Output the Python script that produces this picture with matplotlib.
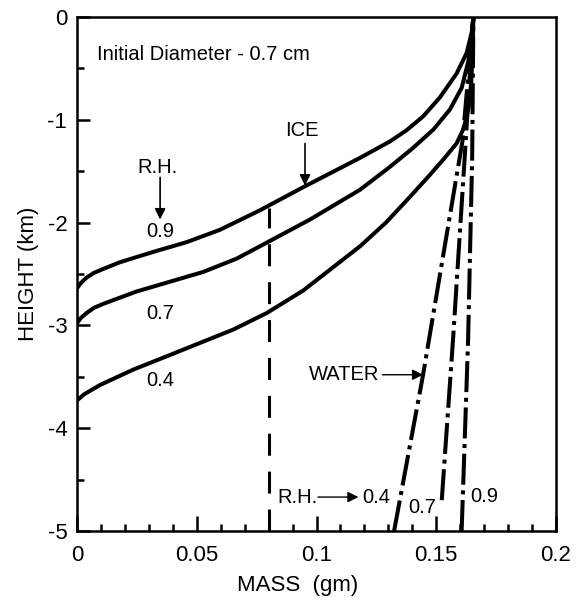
import matplotlib
matplotlib.use("Agg")
import matplotlib.pyplot as plt
from matplotlib.ticker import MultipleLocator

plt.rcParams['font.family'] = ['Liberation Sans', 'DejaVu Sans']

# ---- data ----
ice09_x = [0.0, 0.0015, 0.0040, 0.0070, 0.0110, 0.0180, 0.0249, 0.0333, 0.0458, 0.0597, 0.0764, 0.0945,
           0.1182, 0.1307, 0.1377, 0.1446, 0.1516, 0.1585, 0.1627, 0.1648, 0.1655]
ice09_y = [-2.64, -2.59, -2.535, -2.49, -2.45, -2.385, -2.335, -2.275, -2.19, -2.07, -1.88, -1.655,
           -1.37, -1.21, -1.10, -0.965, -0.78, -0.55, -0.35, -0.15, 0.0]

ice07_x = [0.0, 0.0015, 0.0040, 0.0070, 0.0110, 0.0249, 0.0388, 0.0527, 0.0667, 0.0764, 0.0973, 0.1182,
           0.1300, 0.1400, 0.1488, 0.1557, 0.1606, 0.1634, 0.1648, 0.1655]
ice07_y = [-2.98, -2.93, -2.88, -2.83, -2.79, -2.67, -2.575, -2.48, -2.35, -2.23, -1.97, -1.68,
           -1.47, -1.28, -1.095, -0.90, -0.69, -0.43, -0.19, 0.0]

ice04_x = [0.0, 0.0030, 0.0096, 0.0235, 0.0375, 0.0514, 0.0653, 0.0792, 0.0945, 0.1182, 0.1290, 0.1390,
           0.1470, 0.1530, 0.1585, 0.1615, 0.1635, 0.1646, 0.1652, 0.1655]
ice04_y = [-3.73, -3.67, -3.58, -3.43, -3.30, -3.17, -3.04, -2.88, -2.66, -2.23, -2.00, -1.75,
           -1.545, -1.385, -1.23, -1.08, -0.88, -0.64, -0.34, 0.0]

w04_x = [0.1324, 0.1445, 0.1610, 0.1655]
w04_y = [-5.0, -3.48, -1.20, 0.0]
w07_x = [0.1523, 0.1570, 0.1620, 0.1655]
w07_y = [-4.70, -3.14, -1.32, 0.0]
w09_x = [0.1606, 0.1633, 0.1650, 0.1655]
w09_y = [-5.0, -3.14, -1.36, 0.0]

ref_x = [0.08, 0.08]
ref_y = [-5.0, -1.86]

xticks = [0, 0.05, 0.1, 0.15, 0.2]
xticklabels = ['0', '0.05', '0.1', '0.15', '0.2']
yticks = [0, -1, -2, -3, -4, -5]
yticklabels = ['0', '-1', '-2', '-3', '-4', '-5']

# ---- figure ----
fig = plt.figure(figsize=(5.77, 6.09), dpi=100)
ax = fig.add_axes([77/577, 1-531/609, (556-77)/577, (531-17)/609])

lw = 2.9
for xs, ys in [(ice09_x, ice09_y), (ice07_x, ice07_y), (ice04_x, ice04_y)]:
    ax.plot(xs, ys, color='black', lw=lw, solid_capstyle='butt', solid_joinstyle='round')

dashdot = (0, (7.7, 1.4, 1.0, 1.4))
for xs, ys in [(w04_x, w04_y), (w07_x, w07_y), (w09_x, w09_y)]:
    ax.plot(xs, ys, color='black', lw=lw, linestyle=dashdot, dash_capstyle='butt')

ax.plot(ref_x, ref_y, color='black', lw=2.2, linestyle=(0, (7.2, 5.2)), dash_capstyle='butt')

ax.set_xlim(0, 0.2)
ax.set_ylim(-5, 0)
ax.set_xticks(xticks)
ax.set_xticklabels(xticklabels)
ax.set_yticks(yticks)
ax.set_yticklabels(yticklabels)
ax.xaxis.set_minor_locator(MultipleLocator(0.01))
ax.yaxis.set_minor_locator(MultipleLocator(0.5))
ax.tick_params(axis='both', which='both', direction='in', top=False, right=False, width=1.8, labelsize=16)
ax.tick_params(axis='x', which='major', length=11, pad=10)
ax.tick_params(axis='y', which='major', length=9.5, pad=7)
ax.tick_params(axis='both', which='minor', length=5)
for s in ax.spines.values():
    s.set_linewidth(1.8)

ax.set_xlabel('MASS  (gm)', fontsize=16, labelpad=8)
ax.xaxis.set_label_coords(0.46, -0.085)
ax.set_ylabel('HEIGHT (km)', fontsize=16, labelpad=6)

fs = 14.5
ax.text(0.0085, -0.36, 'Initial Diameter - 0.7 cm', fontsize=fs, ha='left', va='center')
ax.text(0.0338, -1.46, 'R.H.', fontsize=fs, ha='center', va='center')
ax.annotate('', xy=(0.0347, -1.97), xytext=(0.0347, -1.56),
            arrowprops=dict(arrowstyle='-|>', lw=1.2, color='black', mutation_scale=16, shrinkA=0, shrinkB=0))
ax.text(0.0347, -2.09, '0.9', fontsize=fs, ha='center', va='center')
ax.text(0.0347, -2.88, '0.7', fontsize=fs, ha='center', va='center')
ax.text(0.0347, -3.54, '0.4', fontsize=fs, ha='center', va='center')

ax.text(0.094, -1.10, 'ICE', fontsize=fs, ha='center', va='center')
ax.annotate('', xy=(0.0952, -1.64), xytext=(0.0952, -1.23),
            arrowprops=dict(arrowstyle='-|>', lw=1.2, color='black', mutation_scale=16, shrinkA=0, shrinkB=0))

ax.text(0.1115, -3.48, 'WATER', fontsize=fs, ha='center', va='center')
ax.annotate('', xy=(0.1445, -3.48), xytext=(0.1275, -3.48),
            arrowprops=dict(arrowstyle='-|>', lw=1.0, color='black', mutation_scale=16, shrinkA=0, shrinkB=0))

ax.text(0.0919, -4.67, 'R.H.', fontsize=fs, ha='center', va='center')
ax.annotate('', xy=(0.1175, -4.67), xytext=(0.1006, -4.67),
            arrowprops=dict(arrowstyle='-|>', lw=1.0, color='black', mutation_scale=16, shrinkA=0, shrinkB=0))
ax.text(0.1248, -4.67, '0.4', fontsize=fs, ha='center', va='center')
ax.text(0.1440, -4.77, '0.7', fontsize=fs, ha='center', va='center')
ax.text(0.1700, -4.66, '0.9', fontsize=fs, ha='center', va='center')

fig.savefig('out.png', dpi=100)
